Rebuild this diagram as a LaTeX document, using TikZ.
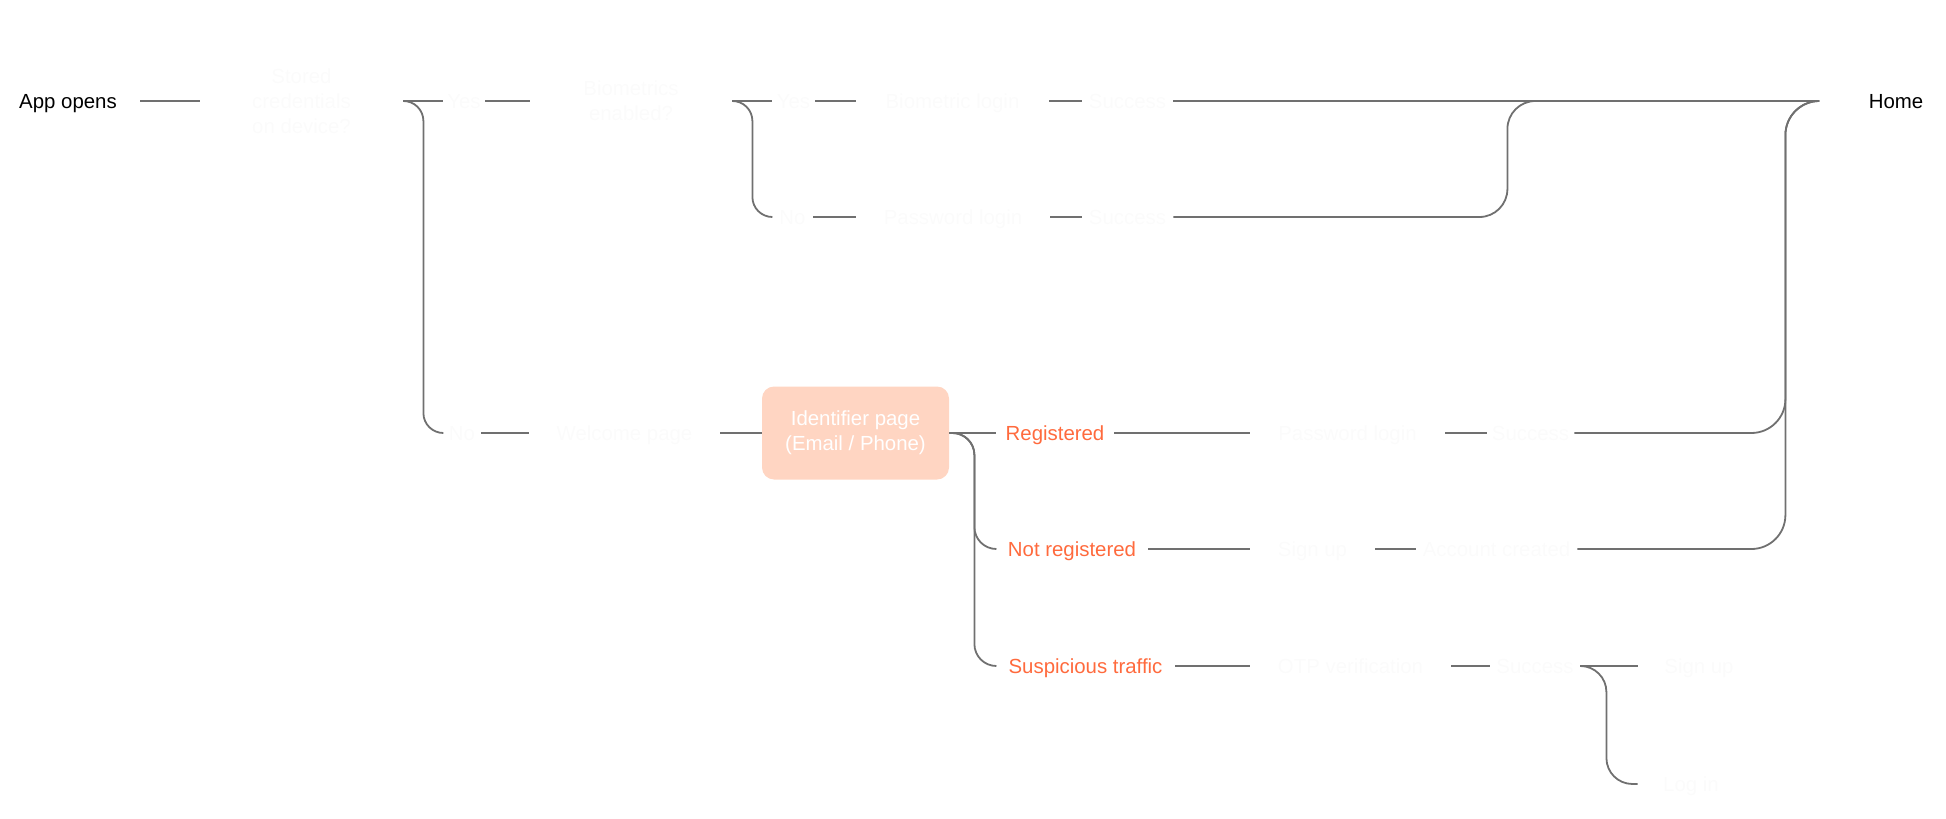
\documentclass[tikz,border=0pt]{standalone}
\usepackage{fontspec}
\setmainfont{Liberation Sans}
\usepackage{xcolor}
\usepackage{tikz}
\usetikzlibrary{positioning}

\definecolor{linkgray}{HTML}{707070}
\definecolor{branchorange}{HTML}{FF6A3D}
\definecolor{peach}{HTML}{FFD5C2}
\definecolor{ghosttext}{HTML}{FBFBFB}

\begin{document}
\begin{tikzpicture}[
  x=0.5pt, y=-0.5pt,
  font=\fontsize{10.2}{12.5}\selectfont,
  oneline/.style={inner sep=0pt, text height=7.2pt, text depth=0pt},
  plain/.style={oneline, text=black},
  ghost/.style={inner sep=0pt, align=center, text=ghosttext},
  ghostline/.style={oneline, text=ghosttext},
  branch/.style={oneline, text=branchorange},
  idbox/.style={fill=peach, rounded corners=6pt, text=white, align=center, minimum width=93.5pt, minimum height=46.5pt, inner sep=0pt},
  link/.style={draw=linkgray, line width=0.9pt}
]
\useasboundingbox (0,0) rectangle (1946,818);

% first row
\node[plain, minimum width=72pt] (app) at (68,101) {App opens};
\node[ghost, minimum width=101.5pt] (stored) at (301.5,101) {Stored\\credentials\\on device?};
\node[ghostline, minimum width=21pt] (yes1) at (464,101) {Yes};
\node[ghost, minimum width=101pt] (bioq) at (631,101) {Biometrics\\enabled?};
\node[ghostline, minimum width=21.5pt] (yes2) at (793.5,101) {Yes};
\node[ghostline, minimum width=96.5pt] (biolog) at (952.5,101) {Biometric login};
\node[ghostline, minimum width=45.5pt] (succ1) at (1127.5,101) {Success};
\node[plain, minimum width=78pt] (home) at (1896,101) {Home};

% no biometrics
\node[ghostline, minimum width=20.5pt] (no2) at (792.5,217) {No};
\node[ghostline, minimum width=97pt] (pwlog1) at (953,217) {Password login};
\node[ghostline, minimum width=45.5pt] (succ2) at (1127.5,217) {Success};

% no stored credentials
\node[ghostline, minimum width=19pt] (no1) at (462,433) {No};
\node[ghostline, minimum width=95.5pt] (welcome) at (624.5,433) {Welcome page};
\node[idbox] (ident) at (855.5,433) {Identifier page\\(Email / Phone)};
\node[branch, minimum width=59pt] (reg) at (1055,433) {Registered};
\node[ghostline, minimum width=97.5pt] (pwlog2) at (1347.5,433) {Password login};
\node[ghostline, minimum width=43.5pt] (succ3) at (1530.5,433) {Success};

\node[branch, minimum width=76pt] (notreg) at (1072,549) {Not registered};
\node[ghostline, minimum width=62.5pt] (signup1) at (1312.5,549) {Sign up};
\node[ghostline, minimum width=80.5pt] (acct) at (1496.5,549) {Account created};

\node[branch, minimum width=89.5pt] (susp) at (1085.5,666) {Suspicious traffic};
\node[ghostline, minimum width=100.5pt] (otp) at (1350.5,666) {OTP verification};
\node[ghostline, minimum width=45pt] (succ4) at (1535,666) {Success};
\node[ghostline, minimum width=61pt] (signup2) at (1699,666) {Sign up};
\node[ghostline, minimum width=53pt] (login) at (1691,784) {Log in};

% connectors
\draw[link] (app) -- (stored);
\draw[link] (stored) -- (yes1);
\draw[link, rounded corners=10pt] (stored.east) -- ++(20,0) |- (no1.west);
\draw[link] (yes1) -- (bioq);
\draw[link] (bioq) -- (yes2);
\draw[link, rounded corners=10pt] (bioq.east) -- ++(20,0) |- (no2.west);
\draw[link] (yes2) -- (biolog);
\draw[link] (biolog) -- (succ1);
\draw[link] (succ1) -- (home);
\draw[link] (no2) -- (pwlog1);
\draw[link] (pwlog1) -- (succ2);
\draw[link, rounded corners=14pt] (succ2.east) -- ++(334,0) |- (home.west);

\draw[link] (no1) -- (welcome);
\draw[link] (welcome) -- (ident);
\draw[link] (ident) -- (reg);
\draw[link, rounded corners=11pt] (ident.east) -- ++(25,0) |- (notreg.west);
\draw[link, rounded corners=11pt] (ident.east) -- ++(25,0) |- (susp.west);
\draw[link] (reg) -- (pwlog2);
\draw[link] (pwlog2) -- (succ3);
\draw[link, rounded corners=17pt] (succ3.east) -- ++(211,0) |- (home.west);
\draw[link] (notreg) -- (signup1);
\draw[link] (signup1) -- (acct);
\draw[link, rounded corners=17pt] (acct.east) -- ++(208,0) |- (home.west);
\draw[link] (susp) -- (otp);
\draw[link] (otp) -- (succ4);
\draw[link] (succ4) -- (signup2);
\draw[link, rounded corners=13pt] (succ4.east) -- ++(26,0) |- (login.west);
\end{tikzpicture}
\end{document}
